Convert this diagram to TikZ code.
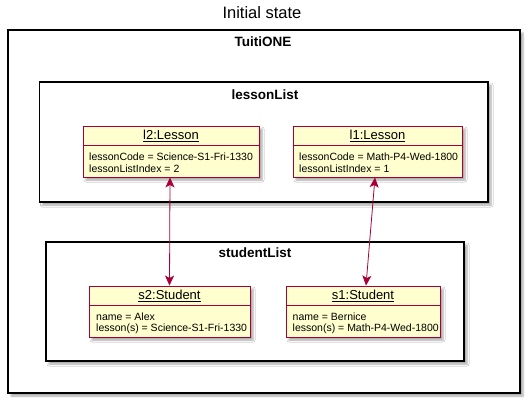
\documentclass[tikz,border=0pt]{standalone}
\usepackage{fontspec}
\setmainfont{Liberation Sans}
\usetikzlibrary{arrows.meta,shadows.blur}
\definecolor{umlred}{HTML}{A80036}
\definecolor{umlfill}{HTML}{FEFECE}
\tikzset{
  shad/.style={blur shadow={shadow xshift=3pt, shadow yshift=-3pt, shadow blur radius=2pt, shadow opacity=35}},
  pkgframe/.style={draw=black, line width=1.3pt, fill=white, inner sep=0pt, shad},
  objbox/.style={draw=umlred, line width=0.9pt, fill=umlfill, inner sep=0pt, minimum height=51pt, shad},
  pkglabel/.style={font=\bfseries\fontsize{13.5}{16}\selectfont, inner sep=0pt},
  objtitle/.style={font=\fontsize{13}{15}\selectfont, inner sep=0pt},
  attr/.style={font=\fontsize{10.5}{12}\selectfont, anchor=west, inner sep=0pt},
  sep/.style={draw=umlred, line width=0.9pt},
  link/.style={draw=umlred, line width=0.8pt, {Stealth[length=10pt,width=9pt,inset=2.5pt]}-{Stealth[length=10pt,width=9pt,inset=2.5pt]}}
}
\begin{document}
\begin{tikzpicture}[x=1pt,y=-1pt]
\useasboundingbox (0,0) rectangle (530,404);

\node[font=\fontsize{16.5}{20}\selectfont, inner sep=0pt] (title) at (262,12.5) {Initial state};

% outer package
\node[pkgframe, minimum width=512pt, minimum height=363pt] (tuitione) at (264,211.5) {};
\node[pkglabel] (tuitionelbl) at (263,41.5) {TuitiONE};

% lessonList package
\node[pkgframe, minimum width=448.5pt, minimum height=120pt] (lessonlist) at (263.75,142) {};
\node[pkglabel] (lessonlistlbl) at (265,95) {lessonList};

% studentList package
\node[pkgframe, minimum width=418pt, minimum height=119pt] (studentlist) at (255,301.5) {};
\node[pkglabel] (studentlistlbl) at (255,253) {studentList};

% l2:Lesson
\node[objbox, minimum width=176pt] (l2) at (171,151.5) {};
\draw[sep] (l2.west |- 0,145) -- (l2.east |- 0,145);
\node[objtitle] (l2t) at (171,136) {\underline{l2:Lesson}};
\node[attr] (l2a) at (89,156.7) {lessonCode = Science-S1-Fri-1330};
\node[attr] (l2b) at (89,168.3) {lessonListIndex = 2};

% l1:Lesson
\node[objbox, minimum width=169pt] (l1) at (377.5,151.5) {};
\draw[sep] (l1.west |- 0,145) -- (l1.east |- 0,145);
\node[objtitle] (l1t) at (377.5,136) {\underline{l1:Lesson}};
\node[attr] (l1a) at (299,156.7) {lessonCode = Math-P4-Wed-1800};
\node[attr] (l1b) at (299,168.3) {lessonListIndex = 1};

% s2:Student
\node[objbox, minimum width=161pt] (s2) at (169.5,311.5) {};
\draw[sep] (s2.west |- 0,305) -- (s2.east |- 0,305);
\node[objtitle] (s2t) at (169.5,296) {\underline{s2:Student}};
\node[attr] (s2a) at (96,316.5) {name = Alex};
\node[attr] (s2b) at (96,328.5) {lesson(s) = Science-S1-Fri-1330};

% s1:Student
\node[objbox, minimum width=154pt] (s1) at (363,311.5) {};
\draw[sep] (s1.west |- 0,305) -- (s1.east |- 0,305);
\node[objtitle] (s1t) at (363,296) {\underline{s1:Student}};
\node[attr] (s1a) at (292.5,316.5) {name = Bernice};
\node[attr] (s1b) at (292.5,328.5) {lesson(s) = Math-P4-Wed-1800};

% links
\draw[link] ([xshift=-1pt]l2.south) -- (s2.north);
\draw[link] ([xshift=-2.5pt]l1.south) -- ([xshift=3pt]s1.north);
\end{tikzpicture}
\end{document}
